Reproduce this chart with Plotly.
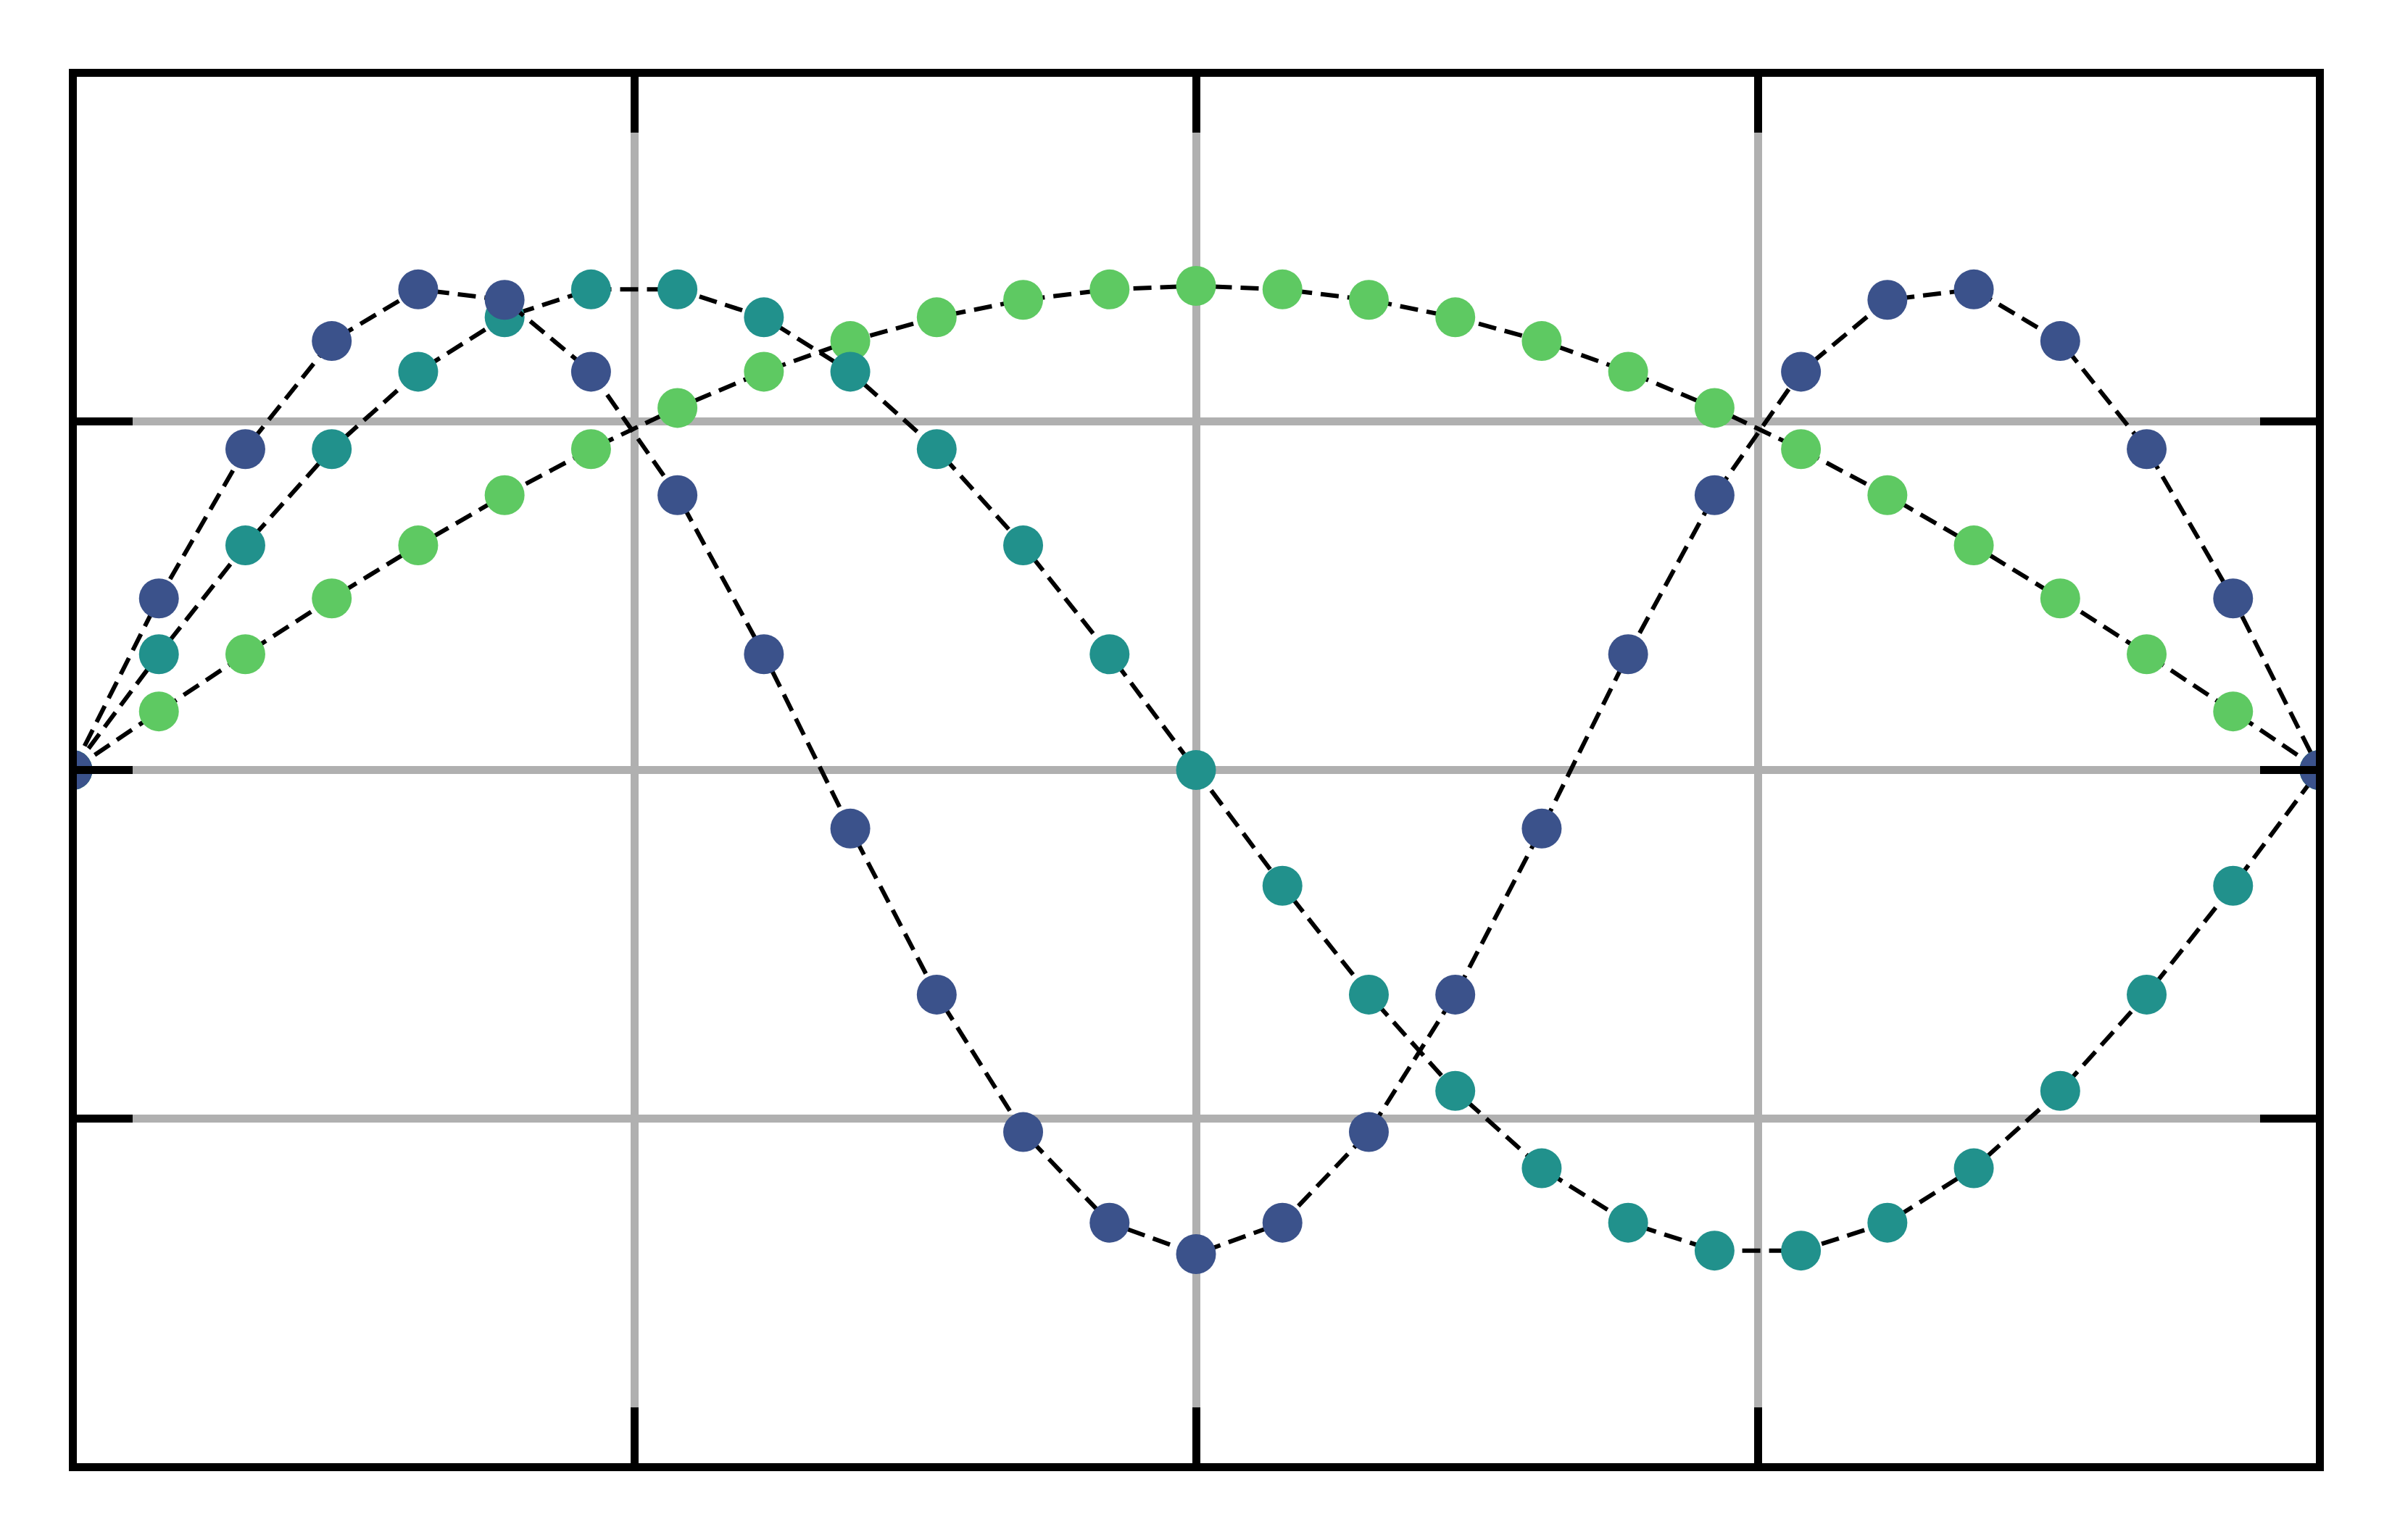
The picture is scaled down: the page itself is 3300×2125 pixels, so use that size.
import plotly.graph_objects as go

# --- data ---
x_idx = list(range(27))

green_vals = [0, 0.084, 0.166, 0.246, 0.322, 0.394, 0.460, 0.519, 0.571, 0.615, 0.649, 0.674, 0.689, 0.694,
              0.689, 0.674, 0.649, 0.615, 0.571, 0.519, 0.460, 0.394, 0.322, 0.246, 0.166, 0.084, 0]
teal_vals = [0, 0.166, 0.322, 0.460, 0.571, 0.649, 0.689, 0.689, 0.649, 0.571, 0.460, 0.322, 0.166, 0,
             -0.166, -0.322, -0.460, -0.571, -0.649, -0.689, -0.689, -0.649, -0.571, -0.460, -0.322, -0.166, 0]
blue_vals = [0, 0.246, 0.460, 0.615, 0.689, 0.674, 0.571, 0.394, 0.166, -0.084, -0.322, -0.519, -0.649, -0.694,
             -0.649, -0.519, -0.322, -0.084, 0.166, 0.394, 0.571, 0.674, 0.689, 0.615, 0.460, 0.246, 0]

x_ticks = [6.5, 13, 19.5]
y_ticks = [-0.5, 0, 0.5]

series = [
    (green_vals, '#5ec962'),
    (teal_vals, '#21918c'),
    (blue_vals, '#3b528b'),
]

fig = go.Figure()
for vals, color in series:
    fig.add_trace(go.Scatter(
        x=x_idx, y=vals,
        mode='lines+markers',
        line=dict(color='black', width=6, dash='25px,12px'),
        marker=dict(color=color, size=55, line=dict(width=0)),
        showlegend=False,
    ))

axis_style = dict(
    showline=True, linecolor='black', linewidth=11, mirror='ticks',
    ticks='inside', ticklen=77, tickwidth=11, tickcolor='black',
    showticklabels=False,
    showgrid=True, gridcolor='#b0b0b0', gridwidth=11,
    zeroline=False,
)

# frame sits centred on the data limits, so the ranges are pulled in by half a line width
fig.update_xaxes(range=[0.0503, 25.958], tickvals=x_ticks, **axis_style)
fig.update_yaxes(range=[-0.99377, 0.99377], tickvals=y_ticks, **axis_style)

fig.update_layout(
    width=3284, height=2109,
    margin=dict(l=98, r=97, t=98, b=98),
    plot_bgcolor='white', paper_bgcolor='white',
)

fig.write_html("out.html")
